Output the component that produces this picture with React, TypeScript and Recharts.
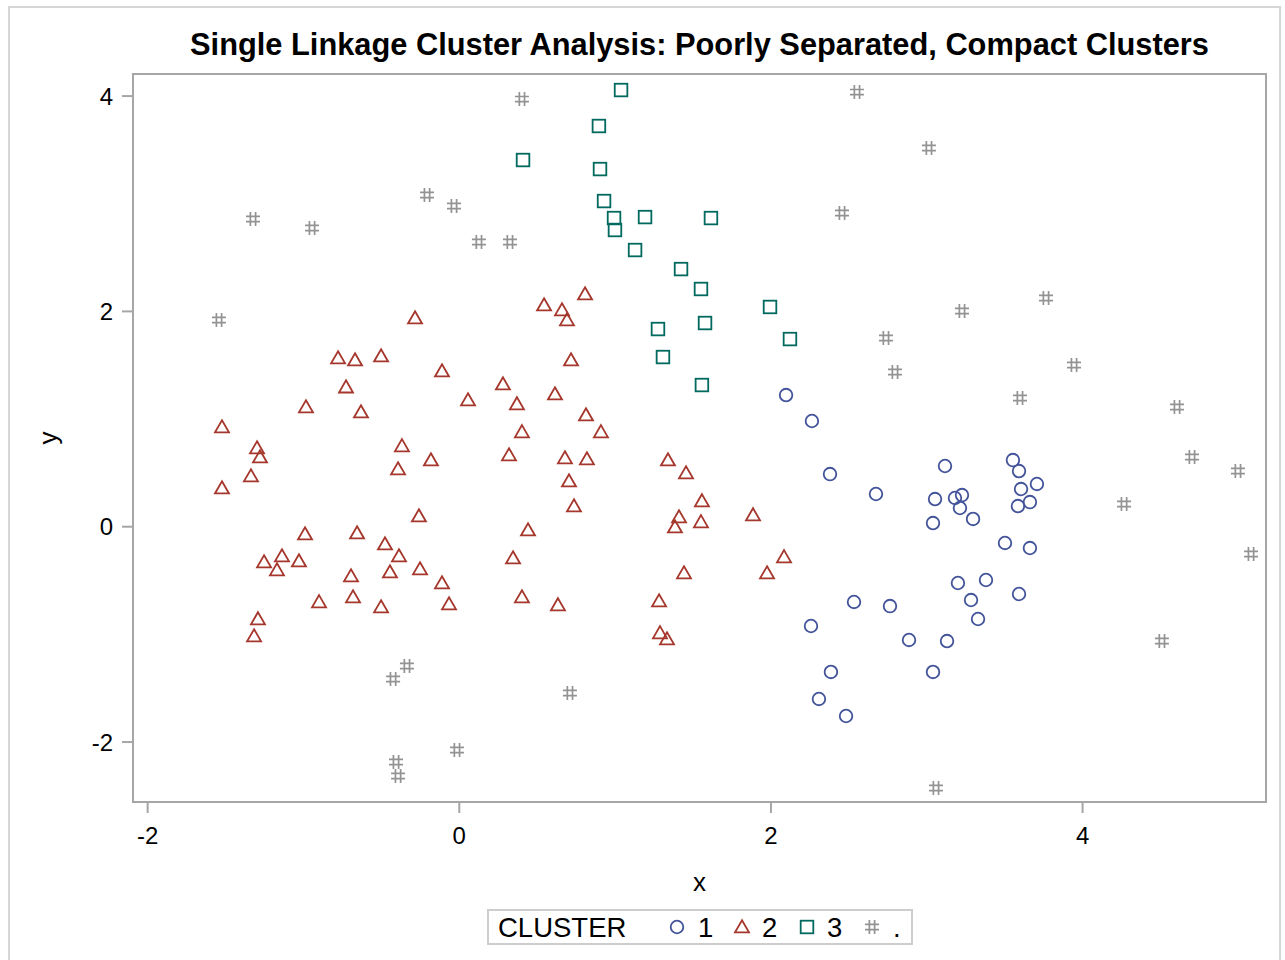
import { ScatterChart, Scatter, XAxis, YAxis, ReferenceArea } from "recharts";

const FONT = '"Liberation Sans", Arial, Helvetica, sans-serif';
const BLUE = "#43549a";
const RED = "#a5372c";
const TEAL = "#02695f";
const GRAY = "#939393";
const FRAME = "#a6a6a6";

// cluster 1 (circles)
const cluster1: [number, number][] = [
  [2.097, 1.223], [2.263, 0.982], [2.379, 0.489], [2.674, 0.304], [3.117, 0.564],
  [3.053, 0.257], [3.181, 0.267], [3.226, 0.294], [3.213, 0.174], [3.297, 0.072],
  [3.04, 0.034], [3.553, 0.619], [3.592, 0.517], [3.707, 0.397], [3.605, 0.35],
  [3.662, 0.229], [3.585, 0.192], [3.502, -0.151], [3.662, -0.198], [3.2, -0.523],
  [3.38, -0.495], [3.284, -0.681], [3.592, -0.625], [3.329, -0.857], [2.533, -0.699],
  [2.764, -0.737], [2.257, -0.922], [2.886, -1.052], [3.13, -1.062], [2.385, -1.349],
  [3.04, -1.349], [2.308, -1.6], [2.482, -1.758],
];

// cluster 2 (triangles)
const cluster2: [number, number][] = [
  [-0.284, 1.938], [-0.778, 1.567], [-0.669, 1.548], [-0.502, 1.585], [-0.111, 1.446],
  [0.28, 1.325], [0.056, 1.177], [0.37, 1.14], [-0.727, 1.297], [-0.984, 1.112],
  [-0.631, 1.065], [-1.523, 0.926], [0.402, 0.88], [-1.298, 0.731], [-1.279, 0.647],
  [-0.368, 0.75], [-0.182, 0.619], [0.319, 0.666], [-0.393, 0.536], [-1.337, 0.471],
  [-1.523, 0.359], [-0.259, 0.099], [-0.99, -0.068], [-0.656, -0.059], [0.441, -0.031],
  [-0.477, -0.161], [-0.387, -0.272], [-1.138, -0.272], [-1.253, -0.328], [-1.029, -0.319],
  [-1.17, -0.402], [-0.695, -0.458], [-0.445, -0.421], [-0.252, -0.393], [0.345, -0.291],
  [-0.111, -0.523], [-0.9, -0.699], [-0.682, -0.653], [-0.502, -0.746], [-0.066, -0.718],
  [0.402, -0.653], [-1.292, -0.857], [-1.317, -1.015],
  [0.807, 2.161], [0.544, 2.059], [0.659, 2.013], [0.691, 1.92], [0.717, 1.548],
  [0.614, 1.232], [0.813, 1.037], [0.909, 0.88], [0.678, 0.638], [0.819, 0.629],
  [0.704, 0.424], [0.736, 0.192], [1.339, 0.619], [1.455, 0.499], [1.557, 0.239],
  [1.41, 0.09], [1.551, 0.044], [1.384, -0.003], [1.885, 0.109], [2.084, -0.281],
  [1.975, -0.43], [1.442, -0.43], [0.633, -0.727], [1.282, -0.69], [1.288, -0.987],
  [1.333, -1.043],
];

// cluster 3 (squares)
const cluster3: [number, number][] = [
  [1.038, 4.056], [0.896, 3.722], [0.409, 3.406], [0.903, 3.322], [0.929, 3.025],
  [0.993, 2.867], [0.999, 2.756], [1.192, 2.876], [1.615, 2.867], [1.128, 2.57],
  [1.423, 2.393], [1.551, 2.208], [1.994, 2.041], [1.275, 1.836], [1.577, 1.892],
  [2.122, 1.743], [1.307, 1.576], [1.557, 1.316],
];

// unassigned (.)
const unassigned: [number, number][] = [
  [0.402, 3.972], [2.552, 4.037], [3.014, 3.517], [2.456, 2.914], [-1.324, 2.858],
  [-0.945, 2.774], [-0.207, 3.081], [-0.034, 2.979], [0.126, 2.644], [0.325, 2.644],
  [-1.542, 1.92], [3.226, 2.003], [3.765, 2.124], [2.738, 1.753], [2.796, 1.437],
  [3.945, 1.502], [3.598, 1.195], [4.606, 1.112], [4.702, 0.647], [4.997, 0.517],
  [4.266, 0.211], [5.081, -0.254], [4.509, -1.062], [3.059, -2.427], [-0.336, -1.294],
  [-0.425, -1.415], [0.71, -1.545], [-0.015, -2.074], [-0.406, -2.185], [-0.393, -2.315],
];

const xTicks = [-2, 0, 2, 4];
const yTicks = [-2, 0, 2, 4];
const xDomain: [number, number] = [-2.094, 5.177];
const yDomain: [number, number] = [-2.557, 4.205];

const toRows = (pts: [number, number][]) => pts.map(([x, y]) => ({ x, y }));

function CircleMark({ cx, cy }: any) {
  return <circle cx={cx} cy={cy} r={6.3} fill="none" stroke={BLUE} strokeWidth={1.8} />;
}
function TriangleMark({ cx, cy }: any) {
  return (
    <path
      d={`M${cx},${cy - 6.8} L${cx + 7},${cy + 5.4} L${cx - 7},${cy + 5.4} Z`}
      fill="none"
      stroke={RED}
      strokeWidth={1.8}
      strokeLinejoin="miter"
    />
  );
}
function SquareMark({ cx, cy }: any) {
  return <rect x={cx - 6.3} y={cy - 6.3} width={12.6} height={12.6} fill="none" stroke={TEAL} strokeWidth={1.8} />;
}
function HashMark({ cx, cy }: any) {
  return (
    <path
      d={`M${cx - 2.6},${cy - 7} V${cy + 7} M${cx + 2.6},${cy - 7} V${cy + 7} M${cx - 7},${cy - 2.6} H${cx + 7} M${cx - 7},${cy + 2.6} H${cx + 7}`}
      fill="none"
      stroke={GRAY}
      strokeWidth={1.7}
    />
  );
}

function XLabel({ viewBox }: any) {
  return (
    <text x={viewBox.x + viewBox.width / 2} y={viewBox.y + 89} textAnchor="middle" fontSize={26} fontFamily={FONT} fill="#000">
      x
    </text>
  );
}
function YLabel({ viewBox }: any) {
  const cx = 57;
  const cy = viewBox.y + viewBox.height / 2;
  return (
    <text x={cx} y={cy} transform={`rotate(-90 ${cx} ${cy})`} textAnchor="middle" fontSize={26} fontFamily={FONT} fill="#000">
      y
    </text>
  );
}

export default function App() {
  const tick = { fill: "#000", fontSize: 24, fontFamily: FONT };
  return (
    <div style={{ position: "absolute", left: 0, top: 0, width: 1285, height: 960, background: "#fff", overflow: "hidden" }}>
      {/* outer frame */}
      <div style={{ position: "absolute", left: 8, top: 6, width: 1273, height: 1000, border: "2px solid #d6d6d6", boxSizing: "border-box" }} />
      <div
        style={{
          position: "absolute", left: 133, top: 29, width: 1133, textAlign: "center",
          fontFamily: FONT, fontWeight: "bold", fontSize: 30.8, lineHeight: "31px", color: "#000", whiteSpace: "nowrap",
        }}
      >
        Single Linkage Cluster Analysis: Poorly Separated, Compact Clusters
      </div>
      <div style={{ position: "absolute", left: 0, top: 0 }}>
        <ScatterChart width={1285} height={960} margin={{ top: 74, right: 19, bottom: 58, left: 73 }}>
          <XAxis
            type="number"
            dataKey="x"
            domain={xDomain}
            ticks={xTicks}
            allowDataOverflow
            height={100}
            tickSize={11}
            tickMargin={14}
            tick={tick}
            stroke={FRAME}
            strokeWidth={2}
            label={<XLabel />}
          />
          <YAxis
            type="number"
            dataKey="y"
            domain={yDomain}
            ticks={yTicks}
            allowDataOverflow
            width={60}
            tickSize={11}
            tickMargin={9}
            tick={tick}
            stroke={FRAME}
            strokeWidth={2}
            label={<YLabel />}
          />
          <ReferenceArea x1={xDomain[0]} x2={xDomain[1]} y1={yDomain[0]} y2={yDomain[1]} fill="none" stroke={FRAME} strokeWidth={2} ifOverflow="visible" />
          <Scatter name="1" data={toRows(cluster1)} shape={<CircleMark />} isAnimationActive={false} />
          <Scatter name="2" data={toRows(cluster2)} shape={<TriangleMark />} isAnimationActive={false} />
          <Scatter name="3" data={toRows(cluster3)} shape={<SquareMark />} isAnimationActive={false} />
          <Scatter name="." data={toRows(unassigned)} shape={<HashMark />} isAnimationActive={false} />
        </ScatterChart>
      </div>
      {/* legend */}
      <svg style={{ position: "absolute", left: 487, top: 909 }} width={426} height={36}>
        <rect x={1} y={1} width={424} height={34} fill="#fff" stroke="#cdcdcd" strokeWidth={2} />
        <text x={11} y={28} fontSize={27.5} fontFamily={FONT} fill="#000">CLUSTER</text>
        <CircleMark cx={190} cy={18} />
        <text x={211} y={28} fontSize={27.5} fontFamily={FONT} fill="#000">1</text>
        <TriangleMark cx={255} cy={18} />
        <text x={275} y={28} fontSize={27.5} fontFamily={FONT} fill="#000">2</text>
        <SquareMark cx={320} cy={18} />
        <text x={340} y={28} fontSize={27.5} fontFamily={FONT} fill="#000">3</text>
        <HashMark cx={385} cy={18} />
        <text x={406} y={28} fontSize={27.5} fontFamily={FONT} fill="#000">.</text>
      </svg>
    </div>
  );
}
